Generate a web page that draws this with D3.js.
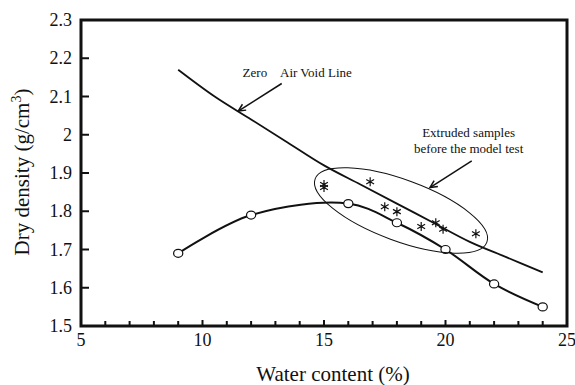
<!DOCTYPE html>
<html>
<head>
<meta charset="utf-8">
<script src="https://cdn.jsdelivr.net/npm/d3@7"></script>
<style>
  body { margin: 0; background: #fff; }
  text { font-family: "Liberation Serif", "Times New Roman", serif; fill: #111; }
</style>
</head>
<body>
<svg id="chart"></svg>
<script>
// compaction curve (open circles)
const waterPct = [9, 12, 16, 18, 20, 22, 24]
const dryDensity = [1.69, 1.79, 1.82, 1.77, 1.70, 1.61, 1.55]

// zero air void line
const zavWater = [9, 10.5, 12, 13.5, 15, 16.5, 18, 19.5, 21, 22.5, 24]
const zavDensity = [2.17, 2.10, 2.04, 1.98, 1.92, 1.87, 1.82, 1.77, 1.72, 1.68, 1.64]

// extruded samples (asterisks)
const sampleWater = [15.0, 15.0, 16.9, 17.5, 18.0, 19.0, 19.6, 19.9, 21.25]
const sampleDensity = [1.862, 1.870, 1.877, 1.812, 1.799, 1.760, 1.770, 1.753, 1.741]

const xTicks = [5, 10, 15, 20, 25]
const yTicks = [1.5, 1.6, 1.7, 1.8, 1.9, 2, 2.1, 2.2, 2.3]

const width = 575, height = 385
const margin = {left: 81, right: 8, top: 20, bottom: 59}

const svg = d3.select('#chart')
  .attr('width', width)
  .attr('height', height)

const x = d3.scaleLinear().domain([5, 25]).range([margin.left, width - margin.right])
const y = d3.scaleLinear().domain([1.5, 2.3]).range([height - margin.bottom, margin.top])

const x0 = x.range()[0], x1 = x.range()[1]
const y0 = y.range()[0], y1 = y.range()[1]

// ticks, drawn inward
svg.append('g')
  .selectAll('line')
  .data(d3.range(5, 25.001, 1))
  .join('line')
  .attr('x1', d => x(d)).attr('x2', d => x(d))
  .attr('y1', y0).attr('y2', d => y0 - (d % 5 === 0 ? 6 : 5))
  .attr('stroke', '#111')
  .attr('stroke-width', 2)

svg.append('g')
  .selectAll('line')
  .data(yTicks)
  .join('line')
  .attr('x1', x0).attr('x2', x0 + 8)
  .attr('y1', d => y(d)).attr('y2', d => y(d))
  .attr('stroke', '#111')
  .attr('stroke-width', 2)

// frame
svg.append('rect')
  .attr('x', x0).attr('y', y1)
  .attr('width', x1 - x0).attr('height', y0 - y1)
  .attr('fill', 'none')
  .attr('stroke', '#111')
  .attr('stroke-width', 3)

svg.append('g')
  .selectAll('text')
  .data(xTicks)
  .join('text')
  .attr('x', d => x(d))
  .attr('y', y0 + 20)
  .attr('text-anchor', 'middle')
  .style('font-size', '18px')
  .text(d => d)

svg.append('g')
  .selectAll('text')
  .data(yTicks)
  .join('text')
  .attr('x', x0 - 9)
  .attr('y', d => y(d) + 6)
  .attr('text-anchor', 'end')
  .style('font-size', '18px')
  .text(d => d3.format('.1~f')(d))

// axis titles
svg.append('text')
  .attr('x', 333)
  .attr('y', 381)
  .attr('text-anchor', 'middle')
  .style('font-size', '21px')
  .text('Water content (%)')

const ylab = svg.append('text')
  .attr('transform', 'translate(29,' + 172 + ') rotate(-90)')
  .attr('text-anchor', 'middle')
  .style('font-size', '21px')
ylab.append('tspan').text('Dry density (g/cm')
ylab.append('tspan').attr('dy', -8).style('font-size', '14px').text('3')
ylab.append('tspan').attr('dy', 8).text(')')

// zero air void line
const zavLine = d3.line()
  .x(d => x(d[0])).y(d => y(d[1]))
  .curve(d3.curveCatmullRom)

svg.append('path')
  .datum(d3.zip(zavWater, zavDensity))
  .attr('d', zavLine)
  .attr('fill', 'none')
  .attr('stroke', '#111')
  .attr('stroke-width', 1.8)

// compaction curve
svg.append('path')
  .datum(d3.zip(waterPct, dryDensity))
  .attr('d', zavLine)
  .attr('fill', 'none')
  .attr('stroke', '#111')
  .attr('stroke-width', 2)

svg.append('g')
  .selectAll('ellipse')
  .data(d3.zip(waterPct, dryDensity))
  .join('ellipse')
  .attr('cx', d => x(d[0]))
  .attr('cy', d => y(d[1]))
  .attr('rx', 4.6)
  .attr('ry', 4)
  .attr('fill', '#fff')
  .attr('stroke', '#111')
  .attr('stroke-width', 1.2)

// asterisks
const star = 'M0,-4.5L0,4.5M-3.9,-2.25L3.9,2.25M-3.9,2.25L3.9,-2.25'
svg.append('g')
  .selectAll('path')
  .data(d3.zip(sampleWater, sampleDensity))
  .join('path')
  .attr('transform', d => 'translate(' + [x(d[0]), y(d[1])] + ')')
  .attr('d', star)
  .attr('fill', 'none')
  .attr('stroke', '#111')
  .attr('stroke-width', 1.2)

// ellipse around samples
svg.append('ellipse')
  .attr('transform', 'translate(' + [x(18.17), y(1.802)] + ') rotate(20.2)')
  .attr('rx', 91.5)
  .attr('ry', 30.6)
  .attr('fill', 'none')
  .attr('stroke', '#111')
  .attr('stroke-width', 1)

// annotations
function arrow(from, to) {
  const xa = x(from[0]), ya = y(from[1]), xb = x(to[0]), yb = y(to[1])
  const ang = Math.atan2(yb - ya, xb - xa)
  const head = 8, spread = 0.45
  svg.append('line')
    .attr('x1', xa).attr('y1', ya).attr('x2', xb).attr('y2', yb)
    .attr('stroke', '#111').attr('stroke-width', 1.5)
  svg.append('path')
    .attr('d', 'M' + [xb - head * Math.cos(ang - spread), yb - head * Math.sin(ang - spread)] +
      'L' + [xb, yb] +
      'L' + [xb - head * Math.cos(ang + spread), yb - head * Math.sin(ang + spread)])
    .attr('fill', 'none').attr('stroke', '#111').attr('stroke-width', 1.5)
}

arrow([13.26, 2.134], [11.47, 2.062])
arrow([21.08, 1.932], [19.36, 1.862])

svg.append('text')
  .attr('x', x(11.65)).attr('y', y(2.151))
  .style('font-size', '13px')
  .text('Zero')
svg.append('text')
  .attr('x', x(13.19)).attr('y', y(2.151))
  .style('font-size', '13px')
  .text('Air Void Line')

svg.append('text')
  .attr('x', x(20.95)).attr('y', y(1.993))
  .attr('text-anchor', 'middle')
  .style('font-size', '13px')
  .text('Extruded samples')
svg.append('text')
  .attr('x', x(20.95)).attr('y', y(1.951))
  .attr('text-anchor', 'middle')
  .style('font-size', '13px')
  .text('before the model test')
</script>
</body>
</html>
